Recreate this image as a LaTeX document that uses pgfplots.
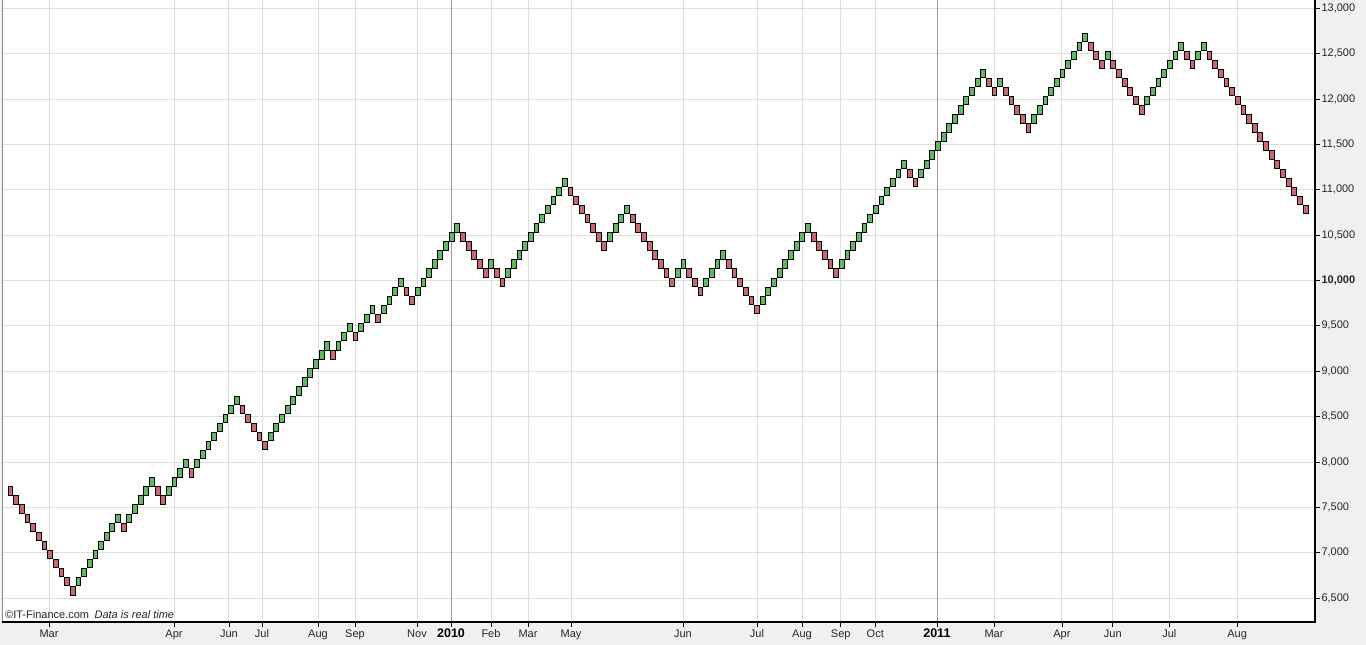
\documentclass[border=0pt]{standalone}
\usepackage{fontspec}
\setmainfont{Liberation Sans}
\usepackage{pgfplots}
\pgfplotsset{compat=1.18}
\definecolor{brickgreen}{RGB}{96,186,96}
\definecolor{brickred}{RGB}{204,102,112}
\definecolor{gridgray}{RGB}{221,221,221}
\definecolor{yeargray}{RGB}{155,155,155}
\definecolor{bggray}{RGB}{240,240,240}
\pgfdeclareplotmark{brick}{\pgfpathrectangle{\pgfpoint{-2.4pt}{-4.2pt}}{\pgfpoint{4.8pt}{8.4pt}}\pgfusepathqfillstroke}
\begin{document}
\begin{tikzpicture}
\path[use as bounding box, fill=bggray] (0,0) rectangle (1366pt,645pt);
\begin{axis}[
  at={(2pt,23pt)}, anchor=south west,
  scale only axis, width=1313pt, height=622pt,
  xmin=-1.52, xmax=230.66, ymin=6237, ymax=13090,
  axis background/.style={fill=white},
  axis line style={draw=none},
  clip=false,
  grid=major, grid style={gridgray, line width=0.8pt},
  xtick pos=lower, ytick pos=right, yticklabel pos=right,
  tick align=outside, major tick length=5pt,
  tick style={black, line width=0.7pt},
  tick label style={font=\fontsize{11}{13}\selectfont, text=black!85},
  yticklabel style={xshift=-2pt},
  xticklabel style={yshift=1pt},
  xtick={6.79,28.9,38.6,44.46,54.36,60.9,71.86,84.95,91.5,99.1,118.9,131.99,139.95,146.8,152.9,173.9,185.9,194.9,204.9,216.9},
  xticklabels={Mar,Apr,Jun,Jul,Aug,Sep,Nov,Feb,Mar,May,Jun,Jul,Aug,Sep,Oct,Mar,Apr,Jun,Jul,Aug},
  extra x ticks={77.88,163.8},
  extra x tick labels={2010,2011},
  extra x tick style={grid style={yeargray, line width=0.8pt}, tick label style={font=\fontsize{12.5}{14}\selectfont\bfseries, text=black, yshift=1pt}},
  ytick={6500,7000,7500,8000,8500,9000,9500,10000,10500,11000,11500,12000,12500,13000},
  yticklabels={{6,500},{7,000},{7,500},{8,000},{8,500},{9,000},{9,500},\textbf{10,000},{10,500},{11,000},{11,500},{12,000},{12,500},{13,000}},
]
% falling bricks
\addplot[only marks, mark=brick, color=black, mark options={fill=brickred, line width=1pt}] coordinates {
(0,7680)(1,7580)(2,7480)(3,7380)(4,7280)(5,7180)(6,7080)(7,6980)(8,6880)(9,6780)(10,6680)(11,6580)
(20,7280)(26,7680)(27,7580)(32,7880)
(41,8580)(42,8480)(43,8380)(44,8280)(45,8180)
(57,9180)(61,9380)(65,9580)(70,9880)(71,9780)
(80,10480)(81,10380)(82,10280)(83,10180)(84,10080)
(86,10080)(87,9980)
(99,10980)(100,10880)(101,10780)(102,10680)(103,10580)(104,10480)(105,10380)
(110,10680)(111,10580)(112,10480)(113,10380)(114,10280)(115,10180)(116,10080)(117,9980)
(120,10080)(121,9980)(122,9880)
(127,10180)(128,10080)(129,9980)(130,9880)(131,9780)(132,9680)
(142,10480)(143,10380)(144,10280)(145,10180)(146,10080)
(159,11180)(160,11080)
(173,12180)(174,12080)
(176,12080)(177,11980)(178,11880)(179,11780)(180,11680)
(191,12580)(192,12480)(193,12380)
(195,12380)(196,12280)(197,12180)(198,12080)(199,11980)(200,11880)
(208,12480)(209,12380)
(212,12480)(213,12380)(214,12280)(215,12180)(216,12080)(217,11980)(218,11880)(219,11780)(220,11680)(221,11580)(222,11480)(223,11380)(224,11280)(225,11180)(226,11080)(227,10980)(228,10880)(229,10780)
};
% rising bricks
\addplot[only marks, mark=brick, color=black, mark options={fill=brickgreen, line width=1pt}] coordinates {
(12,6680)(13,6780)(14,6880)(15,6980)(16,7080)(17,7180)(18,7280)(19,7380)
(21,7380)(22,7480)(23,7580)(24,7680)(25,7780)
(28,7680)(29,7780)(30,7880)(31,7980)
(33,7980)(34,8080)(35,8180)(36,8280)(37,8380)(38,8480)(39,8580)(40,8680)
(46,8280)(47,8380)(48,8480)(49,8580)(50,8680)(51,8780)(52,8880)(53,8980)(54,9080)(55,9180)(56,9280)
(58,9280)(59,9380)(60,9480)
(62,9480)(63,9580)(64,9680)
(66,9680)(67,9780)(68,9880)(69,9980)
(72,9880)(73,9980)(74,10080)(75,10180)(76,10280)(77,10380)(78,10480)(79,10580)
(85,10180)
(88,10080)(89,10180)(90,10280)(91,10380)(92,10480)(93,10580)(94,10680)(95,10780)(96,10880)(97,10980)(98,11080)
(106,10480)(107,10580)(108,10680)(109,10780)
(118,10080)(119,10180)
(123,9980)(124,10080)(125,10180)(126,10280)
(133,9780)(134,9880)(135,9980)(136,10080)(137,10180)(138,10280)(139,10380)(140,10480)(141,10580)
(147,10180)(148,10280)(149,10380)(150,10480)(151,10580)(152,10680)(153,10780)(154,10880)(155,10980)(156,11080)(157,11180)(158,11280)
(161,11180)(162,11280)(163,11380)(164,11480)(165,11580)(166,11680)(167,11780)(168,11880)(169,11980)(170,12080)(171,12180)(172,12280)
(175,12180)
(181,11780)(182,11880)(183,11980)(184,12080)(185,12180)(186,12280)(187,12380)(188,12480)(189,12580)(190,12680)
(194,12480)
(201,11980)(202,12080)(203,12180)(204,12280)(205,12380)(206,12480)(207,12580)
(210,12480)(211,12580)
};
\draw[black!45, line width=0.8pt] (rel axis cs:0,0) -- (rel axis cs:0,1);
\draw[black, line width=2.2pt] (rel axis cs:0,0) -- (rel axis cs:1,0) -- (rel axis cs:1,1);
\node[anchor=south west, inner sep=0pt, font=\fontsize{11}{13}\selectfont, text=black!85] at (rel axis cs:0,0) [xshift=3pt, yshift=3pt] {\textcopyright IT-Finance.com\enspace\textit{Data is real time}};
\end{axis}
\end{tikzpicture}
\end{document}
